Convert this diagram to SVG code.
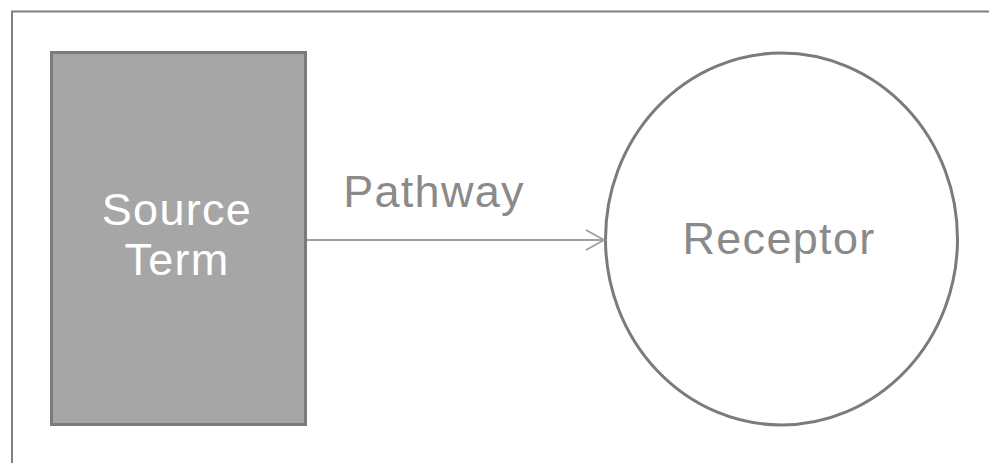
<svg xmlns="http://www.w3.org/2000/svg" width="989" height="463" viewBox="0 0 989 463">
<defs>
<style>
.t{font-family:"Liberation Sans",Arial,sans-serif;font-size:45px;letter-spacing:1.3px}
</style>
<marker id="ah" markerUnits="userSpaceOnUse" markerWidth="24" markerHeight="26" refX="20" refY="12" orient="auto" viewBox="0 0 24 24">
<path d="M2,2 L20,12 L2,22" fill="none" stroke="#a0a0a0" stroke-width="2"/>
</marker>
</defs>
<rect width="989" height="463" fill="#fff"/>
<path d="M12,463 V11.5 H989" fill="none" stroke="#808080" stroke-width="2"/>
<g id="source">
<rect x="51.5" y="52.5" width="254" height="372" fill="#a6a6a6" stroke="#7b7b7b" stroke-width="3"/>
<text class="t" x="177" y="225" fill="#fff" text-anchor="middle">Source</text>
<text class="t" x="177" y="275" fill="#fff" text-anchor="middle">Term</text>
</g>
<g id="receptor">
<ellipse cx="781.5" cy="239" rx="176" ry="186" fill="#fff" stroke="#7b7b7b" stroke-width="3"/>
<text class="t" x="779" y="254" fill="#8a8a8a" text-anchor="middle">Receptor</text>
</g>
<g id="connectors">
<line x1="307" y1="240" x2="604" y2="240" stroke="#a0a0a0" stroke-width="2" marker-end="url(#ah)"/>
<text class="t" x="434" y="207" fill="#8a8a8a" text-anchor="middle">Pathway</text>
</g>
</svg>
